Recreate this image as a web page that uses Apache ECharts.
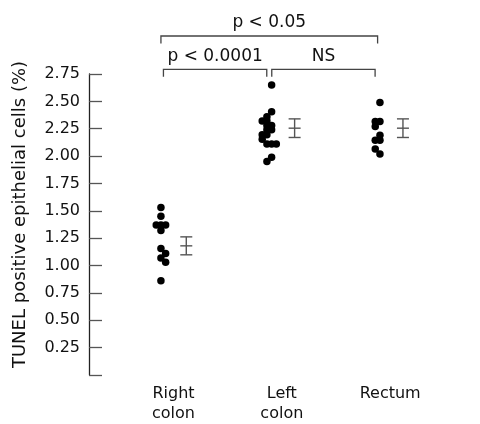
<!DOCTYPE html>
<html>
<head>
<meta charset="utf-8">
<script src="https://cdn.jsdelivr.net/npm/echarts@6/dist/echarts.min.js"></script>
<style>
    html, body { margin: 0; padding: 0; background: #fff; }
    #chart { width: 480px; height: 424px; }
</style>
</head>
<body>
<div id="chart"></div>
<script>
// groups (x position 1, 2, 3)
var categories = ['Right\ncolon', 'Left\ncolon', 'Rectum'];
var yTicks = [0.25, 0.5, 0.75, 1, 1.25, 1.5, 1.75, 2, 2.25, 2.5, 2.75];

// individual values, with swarm slot (side-by-side position) of each dot
var rightColon = [1.53, 1.45, 1.37, 1.37, 1.37, 1.32, 1.155, 1.11, 1.07, 1.03, 0.86];
var rightSlots = [0, 0, -1, 0, 1, 0, 0, 1, 0, 1, 0];
var leftColon = [2.65, 2.405, 2.36, 2.32, 2.32, 2.28, 2.28, 2.24, 2.24, 2.195, 2.195, 2.155, 2.11, 2.11, 2.11, 1.99, 1.95];
var leftSlots = [0.5, 0.5, -0.5, -1.5, -0.5, -0.5, 0.5, -0.5, 0.5, -1.5, -0.5, -1.5, -0.5, 0.5, 1.5, 0.5, -0.5];
var rectum = [2.49, 2.315, 2.315, 2.27, 2.19, 2.145, 2.145, 2.065, 2.02];
var rectumSlots = [0.5, -0.5, 0.5, -0.5, 0.5, -0.5, 0.5, -0.5, 0.5];

// mean and standard error per group
var means = [1.18, 2.255, 2.255];
var errors = [0.082, 0.085, 0.085];

// significance brackets: [from group, to group, row]
var brackets = [[1, 2, 0], [2, 3, 0], [1, 3, 1]];
var bracketLabels = ['p < 0.0001', 'NS', 'p < 0.05'];

var FONT = '"DejaVu Sans", Verdana, sans-serif';
var DOT_SHIFT = -0.116;   // dots sit left of the group centre
var BAR_SHIFT = 0.118;    // error bar sits right of it
var SLOT = 0.0434;

function swarm(values, slots, group) {
    return values.map(function (v, i) {
        return [group + DOT_SHIFT + slots[i] * SLOT, v];
    });
}

var chart = echarts.init(document.getElementById('chart'));
chart.setOption({
    animation: false,
    textStyle: { fontFamily: FONT },
    grid: { left: 89, right: 40, top: 74, bottom: 43 },
    xAxis: {
        type: 'value',
        min: 0.22,
        max: 3.46,
        splitLine: { show: false },
        axisLine: { show: false },
        axisTick: { show: false },
        axisLabel: {
            customValues: [1, 2, 3],
            formatter: function (v) { return categories[Math.round(v) - 1]; },
            color: '#111',
            fontSize: 16,
            lineHeight: 20,
            margin: 9
        }
    },
    yAxis: {
        type: 'value',
        min: 0,
        max: 2.75,
        interval: 0.25,
        name: 'TUNEL positive epithelial cells (%)',
        nameLocation: 'middle',
        nameGap: 60,
        nameTextStyle: { color: '#111', fontSize: 18, padding: [0, 0, 0, 20] },
        splitLine: { show: false },
        axisLine: { show: true, lineStyle: { color: '#222', width: 1.3 } },
        axisTick: { show: true, inside: true, length: 13, lineStyle: { color: '#555', width: 1.3 } },
        axisLabel: {
            customValues: yTicks,
            formatter: function (v) { return v.toFixed(2); },
            color: '#111',
            fontSize: 16,
            margin: 9
        }
    },
    series: [
        {
            type: 'scatter',
            symbolSize: 7.5,
            itemStyle: { color: '#000', opacity: 1 },
            data: swarm(rightColon, rightSlots, 1)
                .concat(swarm(leftColon, leftSlots, 2))
                .concat(swarm(rectum, rectumSlots, 3))
        },
        {
            type: 'custom',
            data: means.map(function (m, i) { return [i + 1, m, errors[i]]; }),
            renderItem: function (params, api) {
                var x = api.value(0) + BAR_SHIFT;
                var m = api.value(1), e = api.value(2);
                var top = api.coord([x, m + e]);
                var mid = api.coord([x, m]);
                var bot = api.coord([x, m - e]);
                var w = 6;
                var st = { stroke: '#555', lineWidth: 1.4 };
                return {
                    type: 'group',
                    children: [
                        { type: 'line', shape: { x1: top[0], y1: top[1], x2: bot[0], y2: bot[1] }, style: st },
                        { type: 'line', shape: { x1: top[0] - w, y1: top[1], x2: top[0] + w, y2: top[1] }, style: st },
                        { type: 'line', shape: { x1: mid[0] - w, y1: mid[1], x2: mid[0] + w, y2: mid[1] }, style: st },
                        { type: 'line', shape: { x1: bot[0] - w, y1: bot[1], x2: bot[0] + w, y2: bot[1] }, style: st }
                    ]
                };
            }
        },
        {
            type: 'custom',
            clip: false,
            data: brackets,
            renderItem: function (params, api) {
                var row = api.value(2);
                var inset = row === 0 ? 2.5 : 0;
                var a = api.coord([api.value(0) + DOT_SHIFT, 2.75]);
                var b = api.coord([api.value(1) + DOT_SHIFT, 2.75]);
                var y = a[1] - 4.7 - row * 33.3;
                var x1 = a[0] + inset, x2 = b[0] - inset;
                var st = { stroke: '#444', lineWidth: 1.3, fill: null };
                return {
                    type: 'group',
                    children: [
                        { type: 'polyline', shape: { points: [[x1, y + 7.5], [x1, y], [x2, y], [x2, y + 7.5]] }, style: st },
                        {
                            type: 'text',
                            style: {
                                text: bracketLabels[params.dataIndex],
                                x: (x1 + x2) / 2, y: y - 13,
                                align: 'center', verticalAlign: 'middle',
                                font: '17px ' + FONT, fill: '#111'
                            }
                        }
                    ]
                };
            }
        }
    ]
});
</script>
</body>
</html>
